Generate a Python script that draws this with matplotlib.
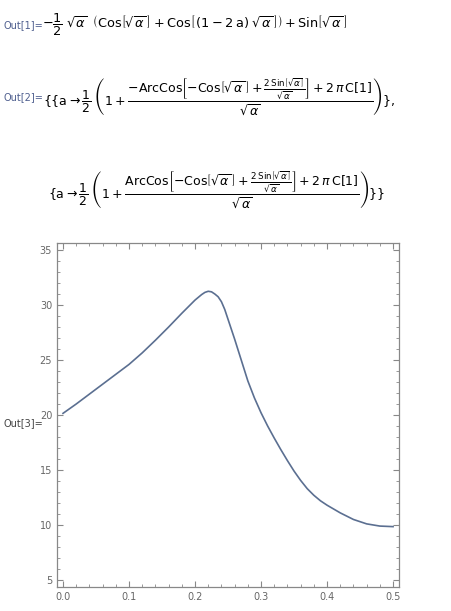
import matplotlib
matplotlib.use("Agg")
import matplotlib.pyplot as plt
from matplotlib.ticker import MultipleLocator

# valores (a, alpha)
a_vals = [0.00, 0.02, 0.04, 0.06, 0.08, 0.10, 0.12, 0.14, 0.16, 0.18,
          0.19, 0.20, 0.21, 0.215, 0.22, 0.225, 0.23, 0.235, 0.24, 0.245,
          0.25, 0.26, 0.27, 0.28, 0.29, 0.30, 0.31, 0.32, 0.33, 0.34,
          0.35, 0.36, 0.37, 0.38, 0.39, 0.40, 0.42, 0.44, 0.46, 0.48, 0.50]
alpha_vals = [20.15, 21.0, 21.9, 22.8, 23.7, 24.6, 25.65, 26.8, 28.0, 29.25,
              29.85, 30.45, 30.95, 31.15, 31.25, 31.2, 31.0, 30.75, 30.3, 29.6,
              28.7, 26.9, 25.0, 23.1, 21.55, 20.2, 19.0, 17.9, 16.85, 15.85,
              14.9, 14.05, 13.3, 12.7, 12.2, 11.8, 11.1, 10.5, 10.1, 9.9, 9.85]

x_ticks = [0.0, 0.1, 0.2, 0.3, 0.4, 0.5]
y_ticks = [5, 10, 15, 20, 25, 30, 35]

plt.rcParams['mathtext.fontset'] = 'dejavusans'

W, H = 451, 611
fig = plt.figure(figsize=(W / 100, H / 100), dpi=100)

label_color = '#4f5f8f'


def px(x, y):
    return x / W, 1 - y / H


# Out[1]
fig.text(*px(3, 25), 'Out[1]=', fontsize=7, color=label_color, va='center')
f1 = (r'$-\dfrac{1}{2}\;\sqrt{\alpha}\;\;\left(\mathrm{Cos}\left[\sqrt{\alpha}\,\right]'
      r'+\mathrm{Cos}\left[\,(1-2\,\mathrm{a})\;\sqrt{\alpha}\,\right]\right)'
      r'+\mathrm{Sin}\left[\sqrt{\alpha}\,\right]$')
fig.text(*px(42, 25), f1, fontsize=9.3, va='center')

# Out[2]
fig.text(*px(3, 97), 'Out[2]=', fontsize=7, color=label_color, va='center')
f2 = (r'$\{\{\mathrm{a}\rightarrow\dfrac{1}{2}\;\left(1+\dfrac{-\mathrm{ArcCos}\left[-\mathrm{Cos}'
      r'\left[\sqrt{\alpha}\,\right]+\frac{2\,\mathrm{Sin}\left[\sqrt{\alpha}\right]}{\sqrt{\alpha}}\right]'
      r'+2\,\pi\,\mathrm{C}[1]}{\sqrt{\alpha}}\right)\},$')
fig.text(*px(43, 97), f2, fontsize=9, va='center')

# segunda solucion
f3 = (r'$\{\mathrm{a}\rightarrow\dfrac{1}{2}\;\left(1+\dfrac{\mathrm{ArcCos}\left[-\mathrm{Cos}'
      r'\left[\sqrt{\alpha}\,\right]+\frac{2\,\mathrm{Sin}\left[\sqrt{\alpha}\right]}{\sqrt{\alpha}}\right]'
      r'+2\,\pi\,\mathrm{C}[1]}{\sqrt{\alpha}}\right)\}\}$')
fig.text(*px(48, 190), f3, fontsize=9, va='center')

# Out[3] grafico
fig.text(*px(3, 423), 'Out[3]=', fontsize=7, color='#444444', va='center')

ax = fig.add_axes([57 / W, (H - 587) / H, 342 / W, 344 / H])
ax.plot(a_vals, alpha_vals, color='#5b6f91', lw=1.2)
ax.set_xlim(-0.0091, 0.509)
ax.set_ylim(4.36, 35.64)
ax.set_xticks(x_ticks)
ax.set_xticklabels([f'{v:.1f}' for v in x_ticks])
ax.set_yticks(y_ticks)
ax.xaxis.set_minor_locator(MultipleLocator(0.02))
ax.yaxis.set_minor_locator(MultipleLocator(1))
for s in ax.spines.values():
    s.set_color('#888888')
    s.set_linewidth(0.9)
ax.tick_params(which='both', direction='in', top=True, right=True,
               colors='#888888', labelcolor='#666666', labelsize=7)
ax.tick_params(which='major', length=4, width=0.8)
ax.tick_params(which='minor', length=2, width=0.6)

fig.savefig('out.png', dpi=100)
